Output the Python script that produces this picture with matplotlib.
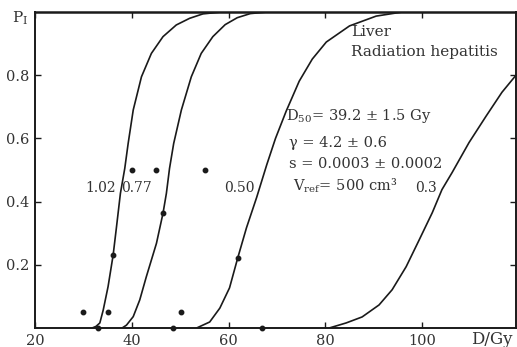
import matplotlib
matplotlib.use("Agg")
import matplotlib.pyplot as plt

# NTCP curves for liver (radiation hepatitis)
volumes = ["1.02", "0.77", "0.50", "0.3"]

dose_102 = [31.8, 32.6, 33.4, 34.1, 35.1, 36.15, 36.85, 37.65, 38.55, 39.25, 40.3, 42.0, 44.05, 46.45, 49.2, 51.95, 54.7, 58.5]
ntcp_102 = [0.0, 0.005, 0.016, 0.057, 0.131, 0.231, 0.321, 0.426, 0.505, 0.584, 0.690, 0.795, 0.869, 0.922, 0.959, 0.980, 0.994, 1.0]

dose_077 = [38.0, 38.9, 40.3, 41.65, 43.0, 45.1, 46.45, 47.15, 47.8, 48.66, 50.25, 52.3, 54.35, 56.75, 59.3, 61.8, 64.5, 68.0]
ntcp_077 = [0.0, 0.009, 0.036, 0.089, 0.162, 0.268, 0.363, 0.426, 0.505, 0.584, 0.690, 0.795, 0.869, 0.922, 0.96, 0.982, 0.995, 1.0]

dose_050 = [53.4, 56.1, 58.2, 60.2, 61.9, 63.7, 65.8, 67.9, 69.7, 71.9, 74.6, 77.3, 80.2, 85.0, 90.5, 95.9]
ntcp_050 = [0.0, 0.019, 0.063, 0.127, 0.222, 0.317, 0.413, 0.517, 0.6, 0.686, 0.781, 0.851, 0.905, 0.956, 0.987, 1.0]

dose_030 = [80.8, 84.3, 87.6, 91.1, 93.8, 96.7, 99.4, 102.1, 104.1, 106.2, 109.7, 113.2, 116.5, 119.4]
ntcp_030 = [0.0, 0.016, 0.035, 0.073, 0.121, 0.194, 0.279, 0.365, 0.438, 0.492, 0.587, 0.67, 0.746, 0.80]

# clinical data points
obs_dose = [29.9, 35.05, 33.0, 48.45, 50.1, 36.1, 46.4, 40.0, 44.95, 55.05, 61.85, 67.0]
obs_ntcp = [0.05, 0.05, 0.0, 0.0, 0.05, 0.23, 0.365, 0.50, 0.50, 0.50, 0.22, 0.0]

# curve label positions
label_dose = [33.5, 40.9, 62.2, 100.9]
label_ntcp = [0.444, 0.444, 0.444, 0.444]

xticks = [20, 40, 60, 80, 100]
yticks = [0.2, 0.4, 0.6, 0.8]

plt.rcParams["font.family"] = ["DejaVu Serif"]
plt.rcParams["mathtext.fontset"] = "dejavuserif"
ink = "#1a1a1a"
txt = "#333333"

fig = plt.figure(figsize=(5.17, 3.47), dpi=100)
ax = fig.add_axes([35 / 517, 19 / 347, 481 / 517, 316 / 347])

curves = [(dose_102, ntcp_102), (dose_077, ntcp_077), (dose_050, ntcp_050), (dose_030, ntcp_030)]
for d, p in curves:
    ax.plot(d, p, color=ink, lw=1.2, solid_capstyle="round", solid_joinstyle="round")

ax.plot(obs_dose, obs_ntcp, "o", color=ink, ms=3.2, clip_on=False, zorder=5)

for lab, x, y in zip(volumes, label_dose, label_ntcp):
    ax.text(x, y, lab, ha="center", va="center", fontsize=10, color=txt)

ax.text(85.4, 0.937, "Liver", fontsize=11, color=txt, va="center")
ax.text(85.4, 0.873, "Radiation hepatitis", fontsize=11, color=txt, va="center")
ax.text(71.9, 0.67, r"D$_{50}$= 39.2 ± 1.5 Gy", fontsize=10.5, color=txt, va="center")
ax.text(72.5, 0.585, "γ = 4.2 ± 0.6", fontsize=10.5, color=txt, va="center")
ax.text(72.5, 0.52, "s = 0.0003 ± 0.0002", fontsize=10.5, color=txt, va="center")
ax.text(73.3, 0.45, r"V$_\mathrm{ref}$= 500 cm³", fontsize=10.5, color=txt, va="center")

ax.set_xlim(20, 119.4)
ax.set_ylim(0, 1.0)
ax.set_xticks(xticks)
ax.set_xticklabels([str(t) for t in xticks])
ax.set_yticks(yticks)
ax.set_yticklabels([f"{t:.1f}" for t in yticks])
ax.tick_params(direction="in", top=True, right=True, length=4, width=1,
               labelsize=10.5, colors=ink, pad=4, labelcolor=txt)
for s in ax.spines.values():
    s.set_linewidth(1.4)
    s.set_color(ink)
ax.spines["top"].set_linewidth(1.8)

fig.text(12 / 517, 1 - 18 / 347, r"P$_\mathrm{I}$", fontsize=11, color=txt, va="center")
fig.text(471 / 517, 1 - 340 / 347, "D/Gy", fontsize=12, color=txt, va="center")

fig.savefig("out.png", dpi=100, facecolor="white")
